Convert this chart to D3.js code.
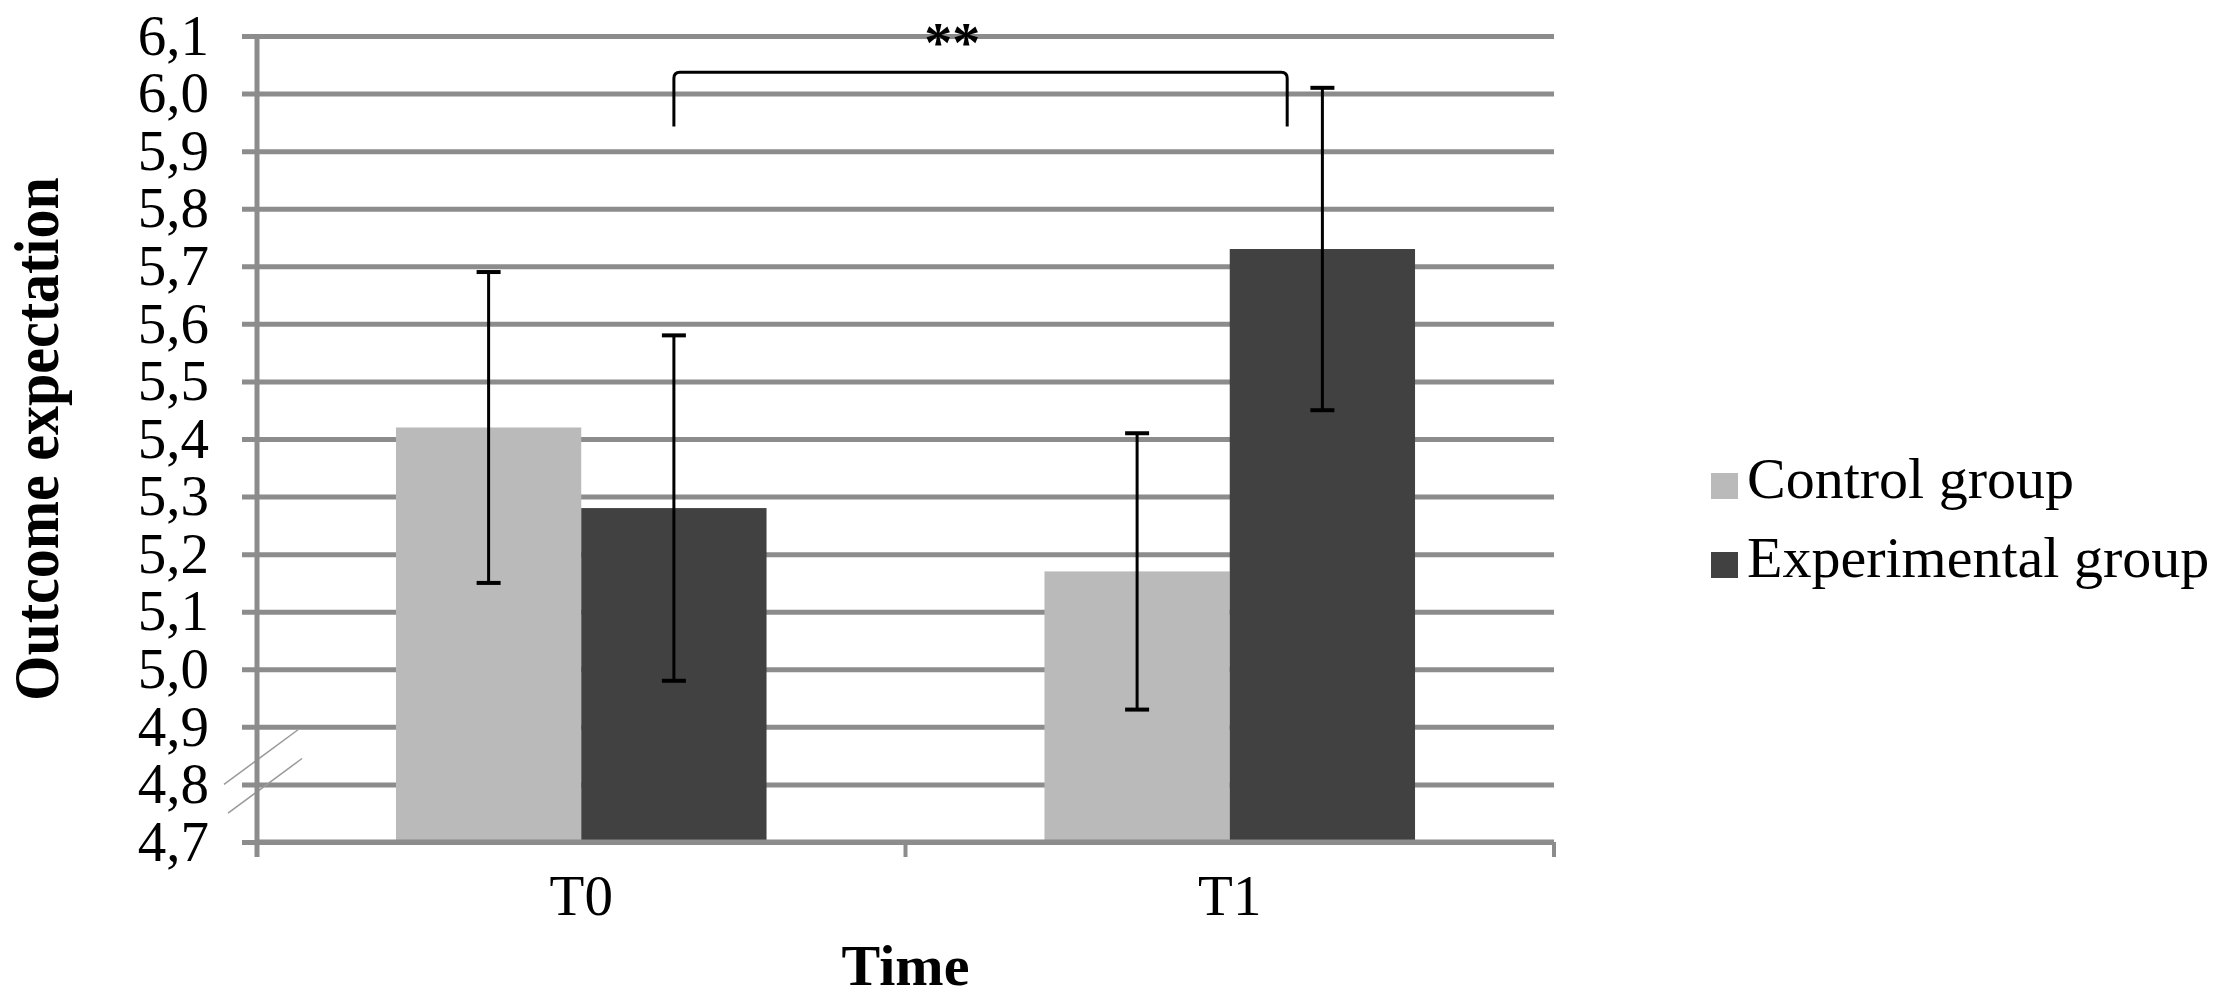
<html>
    <head>
        <title>Outcome expectation</title>
        <script src="https://cdn.jsdelivr.net/npm/d3@7"></script>
    </head>
    <body style="margin:0;background:#fff;">
        <svg width="2217" height="999"></svg>

        <style>
            text { font-family: "Liberation Serif", "Times New Roman", serif; fill: #000; }
            .tick-label { font-size: 57px; }
            .title { font-size: 58px; font-weight: bold; }
            .legend text { font-size: 58px; }
        </style>
        <script>

            // Data:
            var categories = ["T0", "T1"];
            var groups = ["Control group", "Experimental group"];
            var controlMeans = [5.42, 5.17];
            var controlLow = [5.15, 4.93];
            var controlHigh = [5.69, 5.41];
            var experimentalMeans = [5.28, 5.73];
            var experimentalLow = [4.98, 5.45];
            var experimentalHigh = [5.58, 6.01];
            var yTicks = [4.7, 4.8, 4.9, 5.0, 5.1, 5.2, 5.3, 5.4, 5.5, 5.6, 5.7, 5.8, 5.9, 6.0, 6.1];
            var colors = ["#bababa", "#414141"];

            var svg = d3.select("svg"),
                margin = { top: 36, right: 663, bottom: 157, left: 257 },
                width = +svg.attr("width") - margin.left - margin.right,
                height = +svg.attr("height") - margin.top - margin.bottom,
                g = svg.append("g").attr("transform", "translate(" + margin.left + "," + margin.top + ")");

            var rows = [];
            categories.forEach(function(c, i) {
                rows.push({ cat: c, group: groups[0], mean: controlMeans[i], lo: controlLow[i], hi: controlHigh[i] });
                rows.push({ cat: c, group: groups[1], mean: experimentalMeans[i], lo: experimentalLow[i], hi: experimentalHigh[i] });
            });

            var x0 = d3.scaleBand().domain(categories).range([0, width]);
            var x1 = d3.scaleBand().domain(groups).range([0, x0.bandwidth()]).paddingOuter(0.75);
            var y = d3.scaleLinear().domain([4.7, 6.1]).range([height, 0]);
            var color = d3.scaleOrdinal().domain(groups).range(colors);
            var fmt = function(v) { return v.toFixed(1).replace(".", ","); };

            // Gridlines + y labels
            var yAxis = g.append("g")
                .call(d3.axisLeft(y).tickValues(yTicks).tickFormat(fmt).tickSize(0).tickPadding(48));
            yAxis.select(".domain").remove();
            yAxis.selectAll("text").attr("class", "tick-label");
            yAxis.attr("font-size", null).attr("font-family", null);
            yAxis.selectAll(".tick").append("line")
                .attr("x1", -15).attr("x2", width)
                .attr("stroke", "#8c8c8c").attr("stroke-width", 5);

            // Axis break marks
            var brk = [[4.8, 4.895], [4.75, 4.845]];
            g.selectAll(".brk").data(brk).enter().append("line")
                .attr("x1", function(d, i) { return -33 + i * 4; })
                .attr("x2", function(d, i) { return 41 + i * 4; })
                .attr("y1", function(d) { return y(d[0]); })
                .attr("y2", function(d) { return y(d[1]); })
                .attr("stroke", "#9a9a9a").attr("stroke-width", 1.5);

            // Bars
            g.selectAll(".bar").data(rows).enter().append("rect")
                .attr("x", function(d) { return x0(d.cat) + x1(d.group); })
                .attr("width", x1.bandwidth())
                .attr("y", function(d) { return y(d.mean); })
                .attr("height", function(d) { return y(4.7) - y(d.mean); })
                .attr("fill", function(d) { return color(d.group); });

            // Axes lines
            g.append("line").attr("x1", 0).attr("x2", 0).attr("y1", 0).attr("y2", height + 15)
                .attr("stroke", "#8c8c8c").attr("stroke-width", 5);
            g.append("line").attr("x1", 0).attr("x2", width).attr("y1", height).attr("y2", height)
                .attr("stroke", "#8c8c8c").attr("stroke-width", 5);
            var bounds = categories.map(function(c) { return x0(c); }).concat([width]);
            g.selectAll(".xtick").data(bounds).enter().append("line")
                .attr("x1", function(d) { return d; }).attr("x2", function(d) { return d; })
                .attr("y1", height).attr("y2", height + 15)
                .attr("stroke", "#8c8c8c").attr("stroke-width", 4);

            g.selectAll(".xlabel").data(categories).enter().append("text")
                .attr("class", "tick-label")
                .attr("x", function(d) { return x0(d) + x0.bandwidth() / 2; })
                .attr("y", height + 73)
                .attr("text-anchor", "middle")
                .text(function(d) { return d; });

            // Error bars
            var eb = g.selectAll(".err").data(rows).enter().append("g")
                .attr("transform", function(d) { return "translate(" + (x0(d.cat) + x1(d.group) + x1.bandwidth() / 2) + ",0)"; })
                .attr("stroke", "#000").attr("stroke-width", 3);
            eb.append("line").attr("y1", function(d) { return y(d.lo); }).attr("y2", function(d) { return y(d.hi); });
            eb.append("line").attr("x1", -12).attr("x2", 12)
                .attr("y1", function(d) { return y(d.hi); }).attr("y2", function(d) { return y(d.hi); })
                .attr("stroke-width", 4);
            eb.append("line").attr("x1", -12).attr("x2", 12)
                .attr("y1", function(d) { return y(d.lo); }).attr("y2", function(d) { return y(d.lo); })
                .attr("stroke-width", 4);

            // Significance bracket
            var bl = x0("T0") + x1(groups[1]) + x1.bandwidth() / 2,
                br = x0("T1") + x1(groups[1]) + x1.bandwidth() * 0.31,
                bt = y(6.037), bb = y(5.943), r = 6;
            g.append("path")
                .attr("d", "M" + bl + "," + bb + "V" + (bt + r) + "Q" + bl + "," + bt + " " + (bl + r) + "," + bt +
                    "H" + (br - r) + "Q" + br + "," + bt + " " + br + "," + (bt + r) + "V" + bb)
                .attr("fill", "none").attr("stroke", "#000").attr("stroke-width", 3);
            g.append("text")
                .attr("x", x0("T1") + 0.072 * x0.bandwidth())
                .attr("y", y(6.055))
                .attr("text-anchor", "middle")
                .style("font-size", "56px").style("font-weight", "bold")
                .text("**");

            // Axis titles
            svg.append("text").attr("class", "title")
                .attr("x", margin.left + width / 2).attr("y", 985)
                .attr("text-anchor", "middle").text("Time");
            svg.append("text").attr("class", "title")
                .attr("transform", "translate(58," + (margin.top + height / 2) + ") rotate(-90) scale(1,1.1)")
                .attr("text-anchor", "middle").text("Outcome expectation");

            // Legend
            var legend = svg.append("g").attr("class", "legend")
                .attr("transform", "translate(1711,473)");
            var li = legend.selectAll("g").data(groups).enter().append("g")
                .attr("transform", function(d, i) { return "translate(0," + (i * 79) + ")"; });
            li.append("rect").attr("width", 27).attr("height", 26).attr("fill", function(d) { return color(d); });
            li.append("text").attr("x", 36).attr("y", 25).text(function(d) { return d; });

        </script>
    </body>
</html>
